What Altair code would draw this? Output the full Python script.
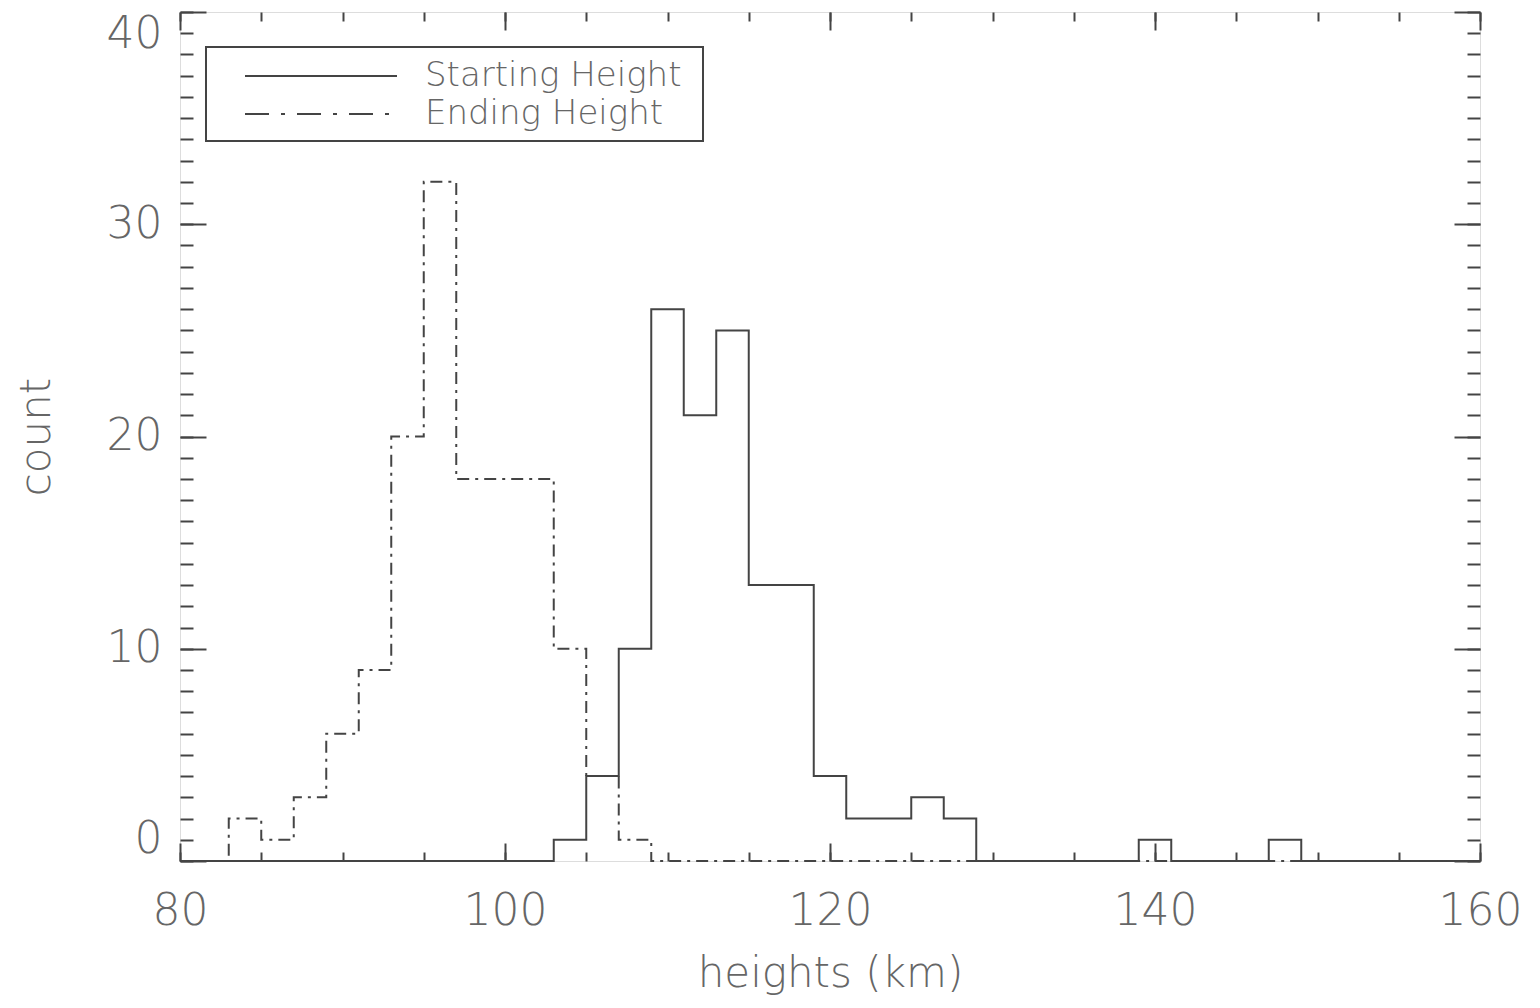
import altair as alt
import pandas as pd

# Histogram data: left bin edge and count (step-after)
start_left = [80, 103, 105, 107, 109, 111, 113, 115, 119, 121, 125, 127, 129, 139, 141, 147, 149, 160]
start_count = [0, 1, 4, 10, 26, 21, 25, 13, 4, 2, 3, 2, 0, 1, 0, 1, 0, 0]
end_left = [80, 83, 85, 87, 89, 91, 93, 95, 97, 103, 105, 107, 109, 160]
end_count = [0, 2, 1, 3, 6, 9, 20, 32, 18, 10, 4, 1, 0, 0]

x_major = [80, 100, 120, 140, 160]
x_minor = list(range(80, 161, 5))
y_major = [0, 10, 20, 30, 40]
y_minor = list(range(0, 41, 1))
legend_labels = ["Starting Height", "Ending Height"]

FONT = "DejaVu Sans"
TXT = "#666666"
LINE = "#444444"

start_df = pd.DataFrame({"h": start_left, "n": start_count})
end_df = pd.DataFrame({"h": end_left, "n": end_count})

xs = alt.Scale(domain=[80, 160], nice=False, zero=False)
ys = alt.Scale(domain=[0, 40], nice=False, zero=False)


def ax(orient, values, size, labels=False, title=None, **kw):
    return alt.Axis(orient=orient, values=values, tickSize=size, offset=-size,
                    domain=False, grid=False, labels=labels, title=title,
                    tickColor=LINE, tickWidth=2, **kw)


lab_kw = dict(labelFont=FONT, labelFontSize=44, labelColor=TXT, labelFontWeight=200,
              titleFont=FONT, titleFontSize=42, titleColor=TXT, titleFontWeight=200)

start_line = alt.Chart(start_df).mark_line(
    interpolate="step-after", color=LINE, strokeWidth=2
).encode(
    x=alt.X("h:Q", scale=xs, axis=ax("bottom", x_major, 18, labels=True, title="heights (km)",
                                      labelPadding=28, titlePadding=20, labelFlush=False,
                                      labelOverlap=False, **lab_kw)),
    y=alt.Y("n:Q", scale=ys, axis=ax("left", y_major, 26, labels=True, title="count",
                                      labelPadding=18, titlePadding=48, labelFlush=True, **lab_kw)),
)

end_line = alt.Chart(end_df).mark_line(
    interpolate="step-after", color=LINE, strokeWidth=2, strokeDash=[12, 6, 3, 6]
).encode(
    x=alt.X("h:Q", scale=xs, axis=ax("bottom", x_minor, 9)),
    y=alt.Y("n:Q", scale=ys, axis=ax("left", y_minor, 13)),
)

dummy1 = alt.Chart(start_df).mark_line(opacity=0).encode(
    x=alt.X("h:Q", scale=xs, axis=ax("top", x_major, 18)),
    y=alt.Y("n:Q", scale=ys, axis=ax("right", y_major, 26)),
)
dummy2 = alt.Chart(start_df).mark_line(opacity=0).encode(
    x=alt.X("h:Q", scale=xs, axis=ax("top", x_minor, 9)),
    y=alt.Y("n:Q", scale=ys, axis=ax("right", y_minor, 13)),
)

one = pd.DataFrame({"a": [0]})
leg_box = alt.Chart(one).mark_rect(fill=None, stroke=LINE, strokeWidth=2).encode(
    x=alt.value(26), x2=alt.value(523), y=alt.value(35), y2=alt.value(129)
)
leg_l1 = alt.Chart(one).mark_rule(color=LINE, strokeWidth=2).encode(
    x=alt.value(65), x2=alt.value(217), y=alt.value(64)
)
leg_l2 = alt.Chart(one).mark_rule(color=LINE, strokeWidth=2, strokeDash=[24, 12, 4, 12]).encode(
    x=alt.value(65), x2=alt.value(217), y=alt.value(102)
)
leg_t1 = alt.Chart(one).mark_text(align="left", baseline="middle", font=FONT, fontSize=34,
                                  fontWeight=200, color=TXT).encode(
    x=alt.value(245), y=alt.value(64), text=alt.value(legend_labels[0])
)
leg_t2 = alt.Chart(one).mark_text(align="left", baseline="middle", font=FONT, fontSize=34,
                                  fontWeight=200, color=TXT).encode(
    x=alt.value(245), y=alt.value(102), text=alt.value(legend_labels[1])
)

chart = alt.layer(
    start_line, end_line, dummy1, dummy2, leg_box, leg_l1, leg_l2, leg_t1, leg_t2
).resolve_axis(x="independent", y="independent").properties(
    width=1300, height=849,
    autosize=alt.AutoSizeParams(type="none"),
    padding={"left": 172, "top": 4, "right": 48, "bottom": 140},
).configure_view(stroke=LINE, strokeWidth=2).configure(background="white")

chart.save("out.html", embed_options={"renderer": "svg", "actions": False})
